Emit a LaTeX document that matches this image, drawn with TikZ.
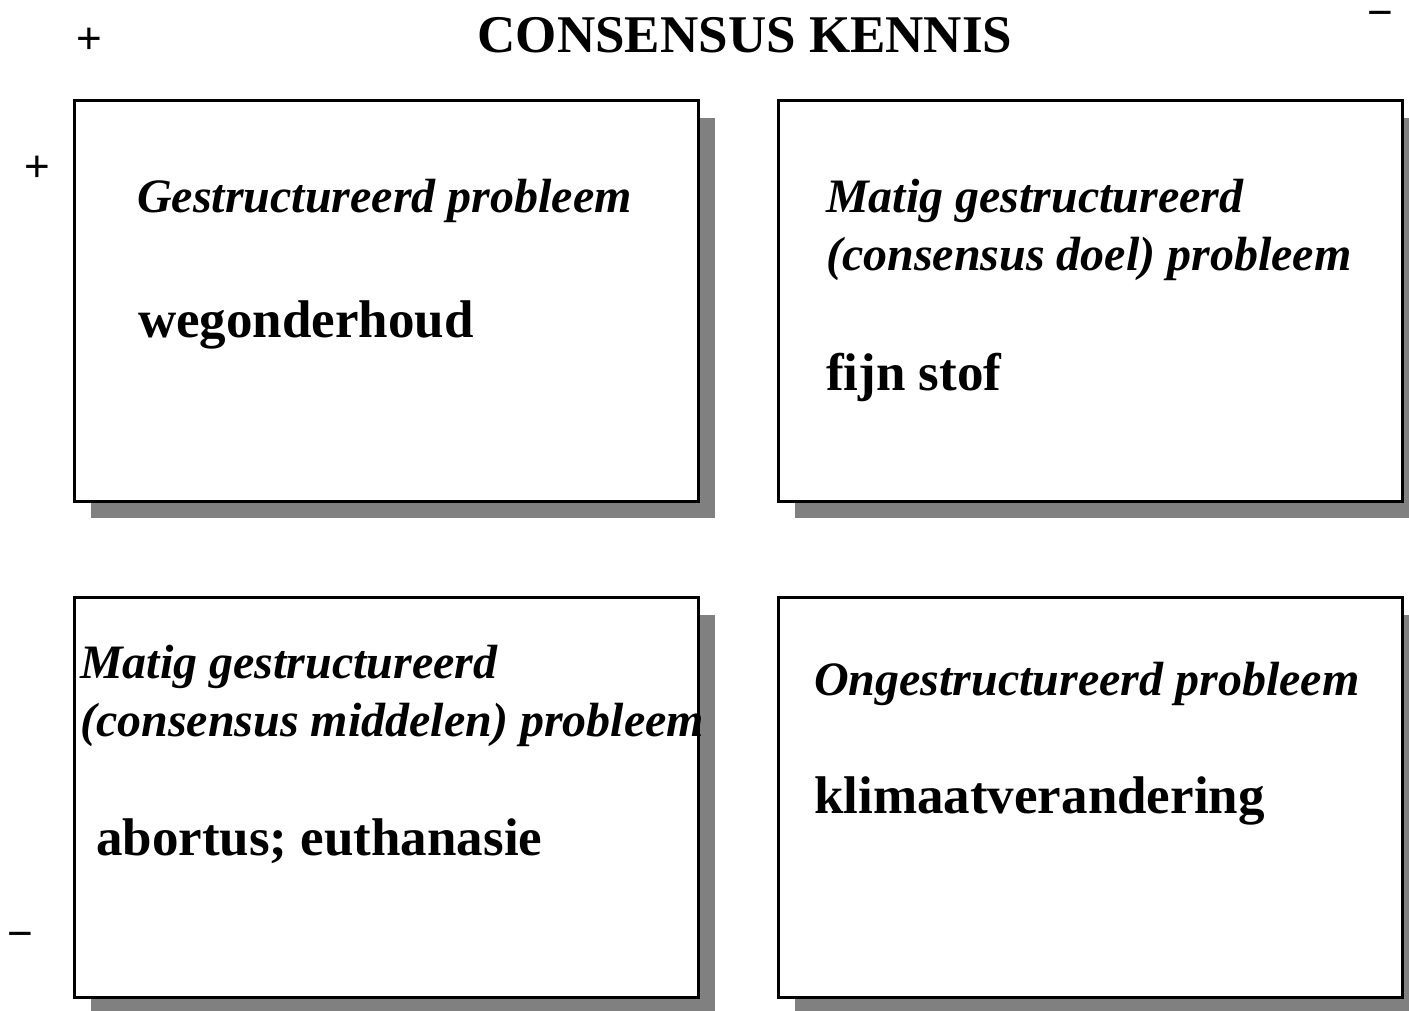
\documentclass[tikz,border=0pt]{standalone}
\usepackage{fontspec}
\setmainfont{Liberation Serif}
\newfontfamily\signfont{Liberation Sans}
\usetikzlibrary{shadows}
\begin{document}
\begin{tikzpicture}[x=1pt,y=-1pt,
  panel/.style={draw=black,line width=3pt,fill=white,minimum width=624pt,minimum height=400pt,inner sep=0pt,
    drop shadow={shadow xshift=17pt,shadow yshift=-17pt,fill=gray,opacity=1}},
  label/.style={anchor=base west,inner sep=0pt,font=\fontsize{48}{58}\selectfont\bfseries\itshape},
  item/.style={anchor=base west,inner sep=0pt,font=\fontsize{53}{60}\selectfont\bfseries},
  sign/.style={anchor=base,inner sep=0pt,font=\signfont\fontsize{44}{48}\selectfont}]
\useasboundingbox (0,0) rectangle (1409,1011);
\node[anchor=base,inner sep=0pt,font=\fontsize{53}{60}\selectfont\bfseries] (title) at (745,53) {CONSENSUS KENNIS};
\node[panel] (b1) at (386,301) {};
\node[panel] (b2) at (1090,301) {};
\node[panel] (b3) at (386,797.5) {};
\node[panel] (b4) at (1090,797.5) {};
\node[sign] (p1) at (89,53.5) {+};
\node[sign] (p2) at (37,181.5) {+};
\node[sign] (m1) at (1380,27.5) {−};
\node[sign] (m2) at (20,948.5) {−};
\node[label] (l1) at (137,213) {Gestructureerd probleem};
\node[item] (i1) at (138,337) {wegonderhoud};
\node[label] (l2a) at (826,213) {Matig gestructureerd};
\node[label] (l2b) at (826,271) {(consensus doel) probleem};
\node[item] (i2) at (826,390) {fijn stof};
\node[label] (l3a) at (80,678) {Matig gestructureerd};
\node[label] (l3b) at (80,736) {(consensus middelen) probleem};
\node[item] (i3) at (96,855) {abortus; euthanasie};
\node[label] (l4) at (814,695) {Ongestructureerd probleem};
\node[item] (i4) at (814,813) {klimaatverandering};
\end{tikzpicture}
\end{document}
